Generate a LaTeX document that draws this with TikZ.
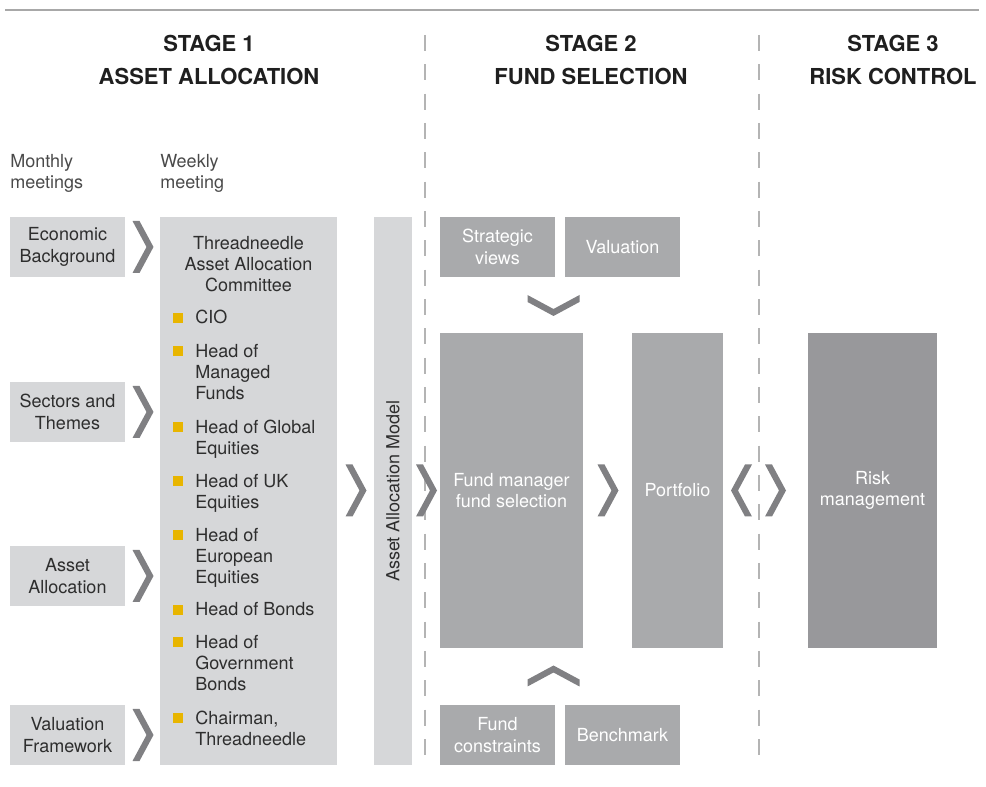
\documentclass[tikz,border=0pt]{standalone}
\usepackage{fontspec}
\setmainfont{TeX Gyre Heros}
\usetikzlibrary{calc}

\definecolor{boxlight}{HTML}{D6D7D9}
\definecolor{boxmid}{HTML}{A9AAAC}
\definecolor{boxdark}{HTML}{98989B}
\definecolor{chevgray}{HTML}{808083}
\definecolor{textdark}{HTML}{2E2E2E}
\definecolor{textsoft}{HTML}{4A4A4A}
\definecolor{bulletyellow}{HTML}{E8B500}
\definecolor{rulegray}{HTML}{A8A8A8}
\definecolor{dashgray}{HTML}{B4B4B4}

\begin{document}
\begin{tikzpicture}[x=0.75pt,y=-0.75pt,
  bodyfont/.style={font=\fontsize{13.5}{16.1}\selectfont},
  sz/.style 2 args={minimum width={#1*0.75pt}, minimum height={#2*0.75pt}},
  boxbase/.style={inner sep=0pt, outer sep=0pt, align=center, bodyfont},
  lightbox/.style={boxbase, fill=boxlight, text=textdark},
  midbox/.style={boxbase, fill=boxmid, text=white},
  darkbox/.style={boxbase, fill=boxdark, text=white},
  heading/.style={inner sep=0pt, align=center, text=black!88,
    font=\fontsize{16.5}{24.75}\selectfont\bfseries},
  caption/.style={inner sep=0pt, align=left, text=textsoft, bodyfont, anchor=base west},
  member/.style={inner sep=0pt, align=left, text=textdark, bodyfont, anchor=base west},
  stagesep/.style={draw=dashgray, line width=1pt, dash pattern=on 12pt off 10pt},
  chev/.pic={\fill[chevgray] (-10,-26) -- (-3,-26) -- (11,0) -- (-3,26) -- (-10,26) -- (4,0) -- cycle;}
]
\useasboundingbox (0,0) rectangle (986,787);

% top rule
\draw[rulegray, line width=1.5pt] (5,10) -- (979,10);

% stage separators
\coordinate (sepA top) at (425,35);
\coordinate (sepA bot) at (425,766);
\coordinate (sepB top) at (759,35);
\coordinate (sepB bot) at (759,766);
\draw[stagesep] (sepA top) -- (sepA bot);
\draw[stagesep] (sepB top) -- (sepB bot);

% stage headings
\node[heading, anchor=base] (h1a) at (209,52) {STAGE 1};
\node[heading, anchor=base] (h1b) at (209,85) {ASSET ALLOCATION};
\node[heading, anchor=base] (h2a) at (591,52) {STAGE 2};
\node[heading, anchor=base] (h2b) at (591,85) {FUND SELECTION};
\node[heading, anchor=base] (h3a) at (893,52) {STAGE 3};
\node[heading, anchor=base] (h3b) at (893,85) {RISK CONTROL};

% meeting captions (anchored on the baseline of the last line)
\node[caption] (monthly) at (10,188.5) {Monthly\\meetings};
\node[caption] (weekly) at (160,188.5) {Weekly\\meeting};

% stage 1 inputs
\node[lightbox, sz={115}{60}] (econ) at (67.5,247) {Economic\\Background};
\node[lightbox, sz={115}{60}] (sectors) at (67.5,412) {Sectors and\\Themes};
\node[lightbox, sz={115}{60}] (assetalloc) at (67.5,576) {Asset\\Allocation};
\node[lightbox, sz={115}{60}] (valfw) at (67.5,735) {Valuation\\Framework};

% committee
\node[lightbox, sz={177}{548}] (committee) at (248.5,491) {};
\node[inner sep=0pt, align=center, text=textdark, bodyfont, anchor=base] (committeetitle) at (248.5,292)
  {Threadneedle\\Asset Allocation\\Committee};

\node[member] (m1) at (195,324) {CIO};
\node[member] (m2) at (195,400) {Head of\\Managed\\Funds};
\node[member] (m3) at (195,454.5) {Head of Global\\Equities};
\node[member] (m4) at (195,508.5) {Head of UK\\Equities};
\node[member] (m5) at (195,584) {Head of\\European\\Equities};
\node[member] (m6) at (195,616) {Head of Bonds};
\node[member] (m7) at (195,691) {Head of\\Government\\Bonds};
\node[member] (m8) at (195,745.5) {Chairman,\\Threadneedle};
% one bullet beside the first line of each member
\foreach \y in {324,357,433,487,541,616,648,724}
  \fill[bulletyellow] (173,\y-11) rectangle (183,\y-1);

% asset allocation model
\node[lightbox, sz={38}{548}] (aam) at (393,491) {};
\node[inner sep=0pt, rotate=90, text=textdark, bodyfont] (aamtext) at (aam.center) {Asset Allocation Model};

% stage 2
\node[midbox, sz={115}{60}] (strategic) at (497.5,247) {Strategic\\views};
\node[midbox, sz={115}{60}] (valuation) at (622.5,247) {Valuation};
\node[midbox, sz={143}{315}] (fundmgr) at (511.5,490.5) {Fund manager\\fund selection};
\node[midbox, sz={91}{315}] (portfolio) at (677.5,490.5) {Portfolio};
\node[midbox, sz={115}{60}] (constraints) at (497.5,735) {Fund\\constraints};
\node[midbox, sz={115}{60}] (benchmark) at (622.5,735) {Benchmark};

% stage 3
\node[darkbox, sz={129}{315}] (risk) at (872.5,490.5) {Risk\\management};

% chevrons
\foreach \src in {econ,sectors,assetalloc,valfw}
  \pic at ($(\src.east)!0.5!(\src.east -| committee.west)$) {chev};
\pic at ($(committee.east |- fundmgr.center)!0.5!(aam.west |- fundmgr.center)$) {chev};
\pic at ($(aam.east |- fundmgr.center)!0.5!(fundmgr.west)$) {chev};
\pic at ($(fundmgr.east)!0.5!(portfolio.west)$) {chev};
\pic[rotate=180] at ($(sepB top |- portfolio.center) + (-17,0)$) {chev};
\pic at ($(sepB top |- portfolio.center) + (16,0)$) {chev};
\pic[rotate=-90] at ($(strategic.south)!0.5!(strategic.south |- fundmgr.north) + (56,0)$) {chev};
\pic[rotate=90] at ($(constraints.north)!0.5!(constraints.north |- fundmgr.south) + (56,0)$) {chev};

\end{tikzpicture}
\end{document}
